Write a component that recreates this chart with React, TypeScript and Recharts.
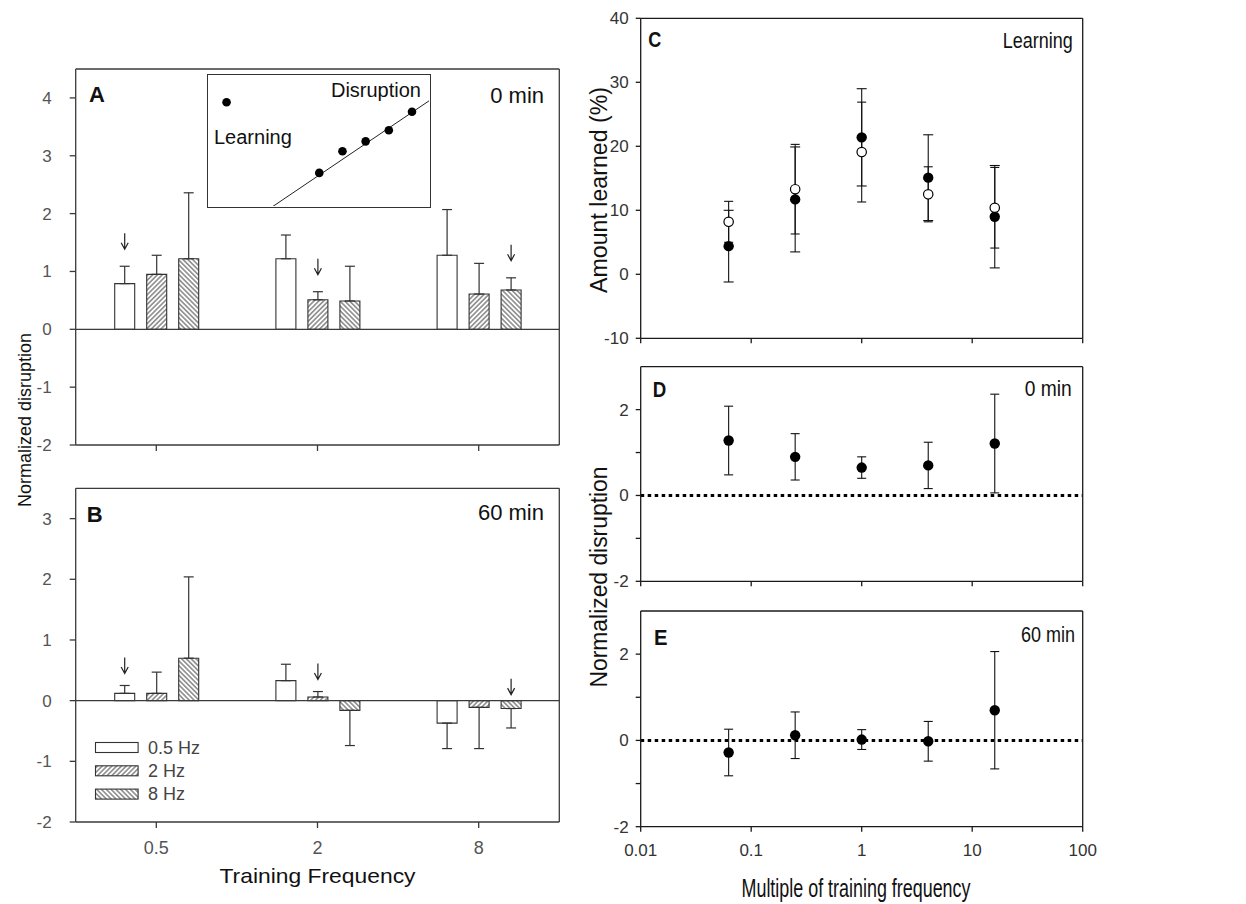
import React from "react";
import {
  ComposedChart,
  Bar,
  XAxis,
  YAxis,
  ReferenceLine,
  ErrorBar,
  LabelList,
  Scatter,
  Line,
  Legend,
} from "recharts";

// ---------- Panels A & B (bar charts) ----------
const groups = ["0.5", "2", "8"];
const seriesNames = ["0.5 Hz", "2 Hz", "8 Hz"];
const arrowGroupOfSeries = [0, 1, 2];

const a05 = [0.79, 1.22, 1.28];
const a05Err = [0.3, 0.41, 0.79];
const a2 = [0.95, 0.51, 0.61];
const a2Err = [0.33, 0.14, 0.53];
const a8 = [1.22, 0.49, 0.68];
const a8Err = [1.14, 0.6, 0.21];

const b05 = [0.12, 0.33, -0.37];
const b05Err = [0.13, 0.27, 0.42];
const b2 = [0.12, 0.06, -0.11];
const b2Err = [0.35, 0.09, 0.68];
const b8 = [0.7, -0.16, -0.13];
const b8Err = [1.34, 0.58, 0.32];

const aTicks = [-2, -1, 0, 1, 2, 3, 4];
const bTicks = [-2, -1, 0, 1, 2, 3];

// ---------- Inset ----------
const insetX = [5, 6, 7, 8, 9];
const insetY = [2.55, 4.2, 4.95, 5.8, 7.2];
const insetLearnX = [1.0];
const insetLearnY = [7.93];
const insetLineX = [3.0, 9.75];
const insetLineY = [0, 8.05];

// ---------- Panels C, D, E ----------
const multiples = [0.0625, 0.25, 1, 4, 16];
const learnFilled = [4.4, 11.7, 21.4, 15.1, 9.0];
const learnFilledErr = [5.6, 8.2, 7.6, 6.7, 8.0];
const learnOpen = [8.2, 13.3, 19.1, 12.5, 10.4];
const learnOpenErr = [3.2, 7.0, 7.8, 4.3, 6.3];
const dis0 = [1.28, 0.9, 0.65, 0.7, 1.21];
const dis0Err = [0.8, 0.54, 0.25, 0.54, 1.15];
const dis60 = [-0.28, 0.12, 0.02, -0.02, 0.7];
const dis60Err = [0.54, 0.54, 0.23, 0.46, 1.36];

const logTicks = [0.01, 0.1, 1, 10, 100];
const cTicks = [-10, 0, 10, 20, 30, 40];
const deTicks = [-2, -1, 0, 1, 2];

const FONT = "'Liberation Sans', Arial, Helvetica, sans-serif";
const AXL = "#3a3a3a";
const AXR = "#1a1a1a";

const errPair = (v: number, e: number) => (v >= 0 ? [0, e] : [e, 0]);

function buildRows(vals: number[][], errs: number[][]) {
  return groups.map((g, i) => {
    const row: any = { cat: g };
    vals.forEach((s, k) => {
      row["v" + k] = s[i];
      row["e" + k] = errPair(s[i], errs[k][i]);
    });
    return row;
  });
}

const arrowContent =
  (vals: number[], errs: number[], target: number, gap: number, negGap: number) =>
  (p: any) => {
    if (p.index !== target) return null;
    const vb = p.viewBox || p;
    const x = Number(vb.x);
    const y = Number(vb.y);
    const w = Number(vb.width);
    const h = Number(vb.height);
    const v = vals[p.index];
    const e = errs[p.index];
    const top = Math.min(y, y + h);
    const cx = x + w / 2;
    let tip: number;
    if (v > 0 && Math.abs(h) > 0) tip = top - (e * Math.abs(h)) / Math.abs(v) - gap;
    else tip = top - negGap;
    return (
      <path
        d={`M${cx},${tip - 16} L${cx},${tip} M${cx - 3.5},${tip - 6.5} L${cx},${tip} L${cx + 3.5},${tip - 6.5}`}
        stroke="#222"
        strokeWidth={1.2}
        fill="none"
      />
    );
  };

function Patterns({ idp }: { idp: string }) {
  return (
    <defs>
      <pattern id={idp + "f"} patternUnits="userSpaceOnUse" width={3.4} height={3.4} patternTransform="rotate(45)">
        <rect width={3.4} height={3.4} fill="#fff" />
        <line x1={1.7} y1={0} x2={1.7} y2={3.4} stroke="#333" strokeWidth={0.9} />
      </pattern>
      <pattern id={idp + "b"} patternUnits="userSpaceOnUse" width={3.4} height={3.4} patternTransform="rotate(-45)">
        <rect width={3.4} height={3.4} fill="#fff" />
        <line x1={1.7} y1={0} x2={1.7} y2={3.4} stroke="#333" strokeWidth={0.9} />
      </pattern>
    </defs>
  );
}

// frame axes (top and right border lines); 1px thick boxes so they render
const frameAxes = (stroke: string) => [
  <XAxis
    key="ft"
    xAxisId="top"
    orientation="top"
    type="number"
    domain={[0, 1]}
    height={1}
    tick={false}
    tickLine={false}
    axisLine={{ stroke, strokeWidth: 1.3 }}
  />,
  <YAxis
    key="fr"
    yAxisId="right"
    orientation="right"
    type="number"
    domain={[0, 1]}
    width={1}
    tick={false}
    tickLine={false}
    axisLine={{ stroke, strokeWidth: 1.3 }}
  />,
];

function BarPanel(props: {
  vals: number[][];
  errs: number[][];
  ticks: number[];
  domain: [number, number];
  top: number;
  height: number;
  marginTop: number;
  xh: number;
  showX: boolean;
  arrowGap: number;
  negGap: number;
  idp: string;
  legend?: boolean;
}) {
  const { vals, errs, ticks, domain, top, height, marginTop, xh, showX, arrowGap, negGap, idp, legend } = props;
  const rows = buildRows(vals, errs);
  const fills = ["#fff", `url(#${idp}f)`, `url(#${idp}b)`];
  const legendContent = () => (
    <svg width={170} height={64} style={{ display: "block", overflow: "visible" }}>
      {seriesNames.map((n, k) => (
        <g key={n}>
          <rect x={0.5} y={k * 23.3 + 0.5} width={42.6} height={10} fill={fills[k]} stroke="#333" strokeWidth={1.1} />
          <text x={53} y={k * 23.3 + 11.5} fontSize={18} fill="#444" fontFamily={FONT}>
            {n}
          </text>
        </g>
      ))}
    </svg>
  );
  return (
    <div style={{ position: "absolute", left: 0, top, width: 570, height }}>
      <ComposedChart
        width={570}
        height={height}
        data={rows}
        margin={{ top: marginTop - 1, right: 9.7, bottom: 0, left: 0 }}
        barGap={12}
      >
        <Patterns idp={idp} />
        <XAxis
          dataKey="cat"
          height={xh}
          tickSize={6}
          tickMargin={13}
          interval={0}
          tickFormatter={(v: any) => (showX ? String(v) : "")}
          axisLine={{ stroke: AXL, strokeWidth: 1.3 }}
          tickLine={{ stroke: AXL, strokeWidth: 1.3 }}
          tick={{ fill: "#555", fontSize: 18 }}
        />
        <YAxis
          type="number"
          domain={domain}
          ticks={ticks}
          allowDataOverflow
          width={75.7}
          tickSize={6}
          tickMargin={18}
          interval={0}
          axisLine={{ stroke: AXL, strokeWidth: 1.3 }}
          tickLine={{ stroke: AXL, strokeWidth: 1.3 }}
          tick={{ fill: "#555", fontSize: 17 }}
        />
        {frameAxes(AXL)}
        <ReferenceLine y={0} stroke={AXL} strokeWidth={1.3} />
        {vals.map((s, k) => (
          <Bar
            key={k}
            dataKey={"v" + k}
            name={seriesNames[k]}
            barSize={20}
            fill={fills[k]}
            stroke="#333"
            strokeWidth={1.1}
            isAnimationActive={false}
          >
            <ErrorBar dataKey={"e" + k} direction="y" width={5} stroke="#333" strokeWidth={1.2} />
            <LabelList
              dataKey={"v" + k}
              content={arrowContent(s, errs[k], arrowGroupOfSeries[k], arrowGap, negGap)}
            />
          </Bar>
        ))}
        {legend ? (
          <Legend
            layout="vertical"
            align="center"
            verticalAlign="middle"
            content={legendContent}
            wrapperStyle={{ left: 95.2, top: 742.2 - 470, width: 170, height: 64 }}
          />
        ) : null}
      </ComposedChart>
    </div>
  );
}

const filledDot = (p: any) => <circle cx={p.cx} cy={p.cy} r={5.2} fill="#000" />;
const openDot = (p: any) => <circle cx={p.cx} cy={p.cy} r={4.7} fill="#fff" stroke="#000" strokeWidth={1.2} />;
const smallDot = (p: any) => <circle cx={p.cx} cy={p.cy} r={4.3} fill="#000" />;

const toRows = (xs: number[], ys: number[], es?: number[]) =>
  xs.map((x, i) => ({ x, y: ys[i], e: es ? es[i] : 0 }));

function LogPanel(props: {
  top: number;
  height: number;
  marginTop: number;
  xh: number;
  domain: [number, number];
  ticks: number[];
  showX: boolean;
  labelEvery?: number;
  series: { rows: any[]; shape: any; cap: number }[];
  dotted?: boolean;
}) {
  const { top, height, marginTop, xh, domain, ticks, showX, labelEvery, series, dotted } = props;
  return (
    <div style={{ position: "absolute", left: 580, top, width: 520, height }}>
      <ComposedChart width={520} height={height} margin={{ top: marginTop - 1, right: 16.3, bottom: 0, left: 0 }}>
        <XAxis
          type="number"
          dataKey="x"
          scale="log"
          domain={[0.01, 100]}
          ticks={logTicks}
          allowDataOverflow
          interval={0}
          height={xh}
          tickSize={5}
          tickMargin={12}
          tickFormatter={(v: any) => (showX ? String(v) : "")}
          axisLine={{ stroke: AXR, strokeWidth: 1.3 }}
          tickLine={{ stroke: AXR, strokeWidth: 1.3 }}
          tick={{ fill: "#333", fontSize: 17 }}
        />
        <YAxis
          type="number"
          dataKey="y"
          domain={domain}
          ticks={ticks}
          allowDataOverflow
          interval={0}
          width={60.7}
          tickSize={5}
          tickMargin={7}
          tickFormatter={(v: any) => (labelEvery && v % labelEvery !== 0 ? "" : String(v))}
          axisLine={{ stroke: AXR, strokeWidth: 1.3 }}
          tickLine={{ stroke: AXR, strokeWidth: 1.3 }}
          tick={{ fill: "#333", fontSize: 17 }}
        />
        {frameAxes(AXR)}
        {dotted ? <ReferenceLine y={0} stroke="#000" strokeWidth={3} strokeDasharray="3.5 3.5" /> : null}
        {series.map((s, k) => (
          <Scatter key={k} data={s.rows} shape={s.shape} fill="#000" isAnimationActive={false}>
            <ErrorBar dataKey="e" direction="y" width={s.cap} stroke="#111" strokeWidth={1.1} />
          </Scatter>
        ))}
      </ComposedChart>
    </div>
  );
}

function Inset() {
  const pts = toRows(insetX, insetY);
  const learn = toRows(insetLearnX, insetLearnY);
  const line = toRows(insetLineX, insetLineY);
  return (
    <div
      style={{
        position: "absolute",
        left: 207,
        top: 73.6,
        width: 224,
        height: 134,
        border: "1.3px solid #333",
        boxSizing: "border-box",
        background: "#fff",
      }}
    >
      <ComposedChart width={221.4} height={131.4} margin={{ top: 0, right: 0, bottom: 0, left: 0 }}>
        <XAxis type="number" dataKey="x" domain={[0.2, 9.75]} allowDataOverflow hide />
        <YAxis type="number" dataKey="y" domain={[0, 10]} allowDataOverflow hide />
        <Line data={line} dataKey="y" stroke="#222" strokeWidth={1} dot={false} isAnimationActive={false} />
        <Scatter data={pts} shape={smallDot} isAnimationActive={false} />
        <Scatter data={learn} shape={smallDot} isAnimationActive={false} />
      </ComposedChart>
    </div>
  );
}

function Overlay() {
  const t = { fontFamily: FONT, fill: "#111" } as any;
  const cond = { lengthAdjust: "spacingAndGlyphs" } as any;
  return (
    <svg
      width={1246}
      height={904}
      style={{ position: "absolute", left: 0, top: 0, pointerEvents: "none" }}
    >
      {/* left panels */}
      <text {...t} x={89} y={101.7} fontSize={22} fontWeight="bold">A</text>
      <text {...t} x={544} y={103.3} fontSize={22} textAnchor="end">0 min</text>
      <text {...t} x={86.7} y={521.7} fontSize={22} fontWeight="bold">B</text>
      <text {...t} x={544} y={520} fontSize={22} textAnchor="end">60 min</text>
      <text {...t} x={214} y={144} fontSize={20}>Learning</text>
      <text {...t} x={421} y={97} fontSize={20} textAnchor="end">Disruption</text>
      <text {...t} {...cond} x={317.5} y={883} fontSize={21} textAnchor="middle" textLength={196}>
        Training Frequency
      </text>
      <text {...t} {...cond} transform="translate(31,420) rotate(-90)" fontSize={19} textAnchor="middle" textLength={174}>
        Normalized disruption
      </text>
      {/* right panels */}
      <text {...t} {...cond} x={648.3} y={47} fontSize={22} fontWeight="bold" textLength={13}>C</text>
      <text {...t} {...cond} x={1072.7} y={47.5} fontSize={22} textAnchor="end" textLength={70}>Learning</text>
      <text {...t} {...cond} x={652.7} y={397} fontSize={22} fontWeight="bold" textLength={13.5}>D</text>
      <text {...t} {...cond} x={1071.7} y={395.5} fontSize={22} textAnchor="end" textLength={47}>0 min</text>
      <text {...t} {...cond} x={654} y={645} fontSize={22} fontWeight="bold" textLength={13.5}>E</text>
      <text {...t} {...cond} x={1075} y={642} fontSize={22} textAnchor="end" textLength={54}>60 min</text>
      <text {...t} {...cond} transform="translate(607,190) rotate(-90)" fontSize={23} textAnchor="middle" textLength={206}>
        Amount learned (%)
      </text>
      <text {...t} {...cond} transform="translate(607,577) rotate(-90)" fontSize={23} textAnchor="middle" textLength={221}>
        Normalized disruption
      </text>
      <text {...t} {...cond} x={856} y={897} fontSize={25} textAnchor="middle" textLength={229}>
        Multiple of training frequency
      </text>
    </svg>
  );
}

export default function App() {
  return (
    <div
      style={{
        position: "absolute",
        left: 0,
        top: 0,
        width: 1246,
        height: 904,
        background: "#fff",
        fontFamily: FONT,
        overflow: "hidden",
      }}
    >
      <BarPanel
        vals={[a05, a2, a8]}
        errs={[a05Err, a2Err, a8Err]}
        ticks={aTicks}
        domain={[-2, 4.5]}
        top={50}
        height={410}
        marginTop={19}
        xh={15}
        showX={false}
        arrowGap={17}
        negGap={6}
        idp="pa"
      />
      <BarPanel
        vals={[b05, b2, b8]}
        errs={[b05Err, b2Err, b8Err]}
        ticks={bTicks}
        domain={[-2, 3.5]}
        top={470}
        height={434}
        marginTop={18.3}
        xh={82}
        showX={true}
        arrowGap={12}
        negGap={6}
        idp="pb"
        legend
      />
      <Inset />
      <LogPanel
        top={0}
        height={350}
        marginTop={18.3}
        xh={11.7}
        domain={[-10, 40]}
        ticks={cTicks}
        showX={false}
        series={[
          { rows: toRows(multiples, learnFilled, learnFilledErr), shape: filledDot, cap: 5 },
          { rows: toRows(multiples, learnOpen, learnOpenErr), shape: openDot, cap: 4.5 },
        ]}
      />
      <LogPanel
        top={350}
        height={245}
        marginTop={16.7}
        xh={13.7}
        domain={[-2, 3]}
        ticks={deTicks}
        labelEvery={2}
        showX={false}
        dotted
        series={[{ rows: toRows(multiples, dis0, dis0Err), shape: filledDot, cap: 4.5 }]}
      />
      <LogPanel
        top={595}
        height={309}
        marginTop={16}
        xh={77.3}
        domain={[-2, 3]}
        ticks={deTicks}
        labelEvery={2}
        showX={true}
        dotted
        series={[{ rows: toRows(multiples, dis60, dis60Err), shape: filledDot, cap: 4.5 }]}
      />
      <Overlay />
    </div>
  );
}
